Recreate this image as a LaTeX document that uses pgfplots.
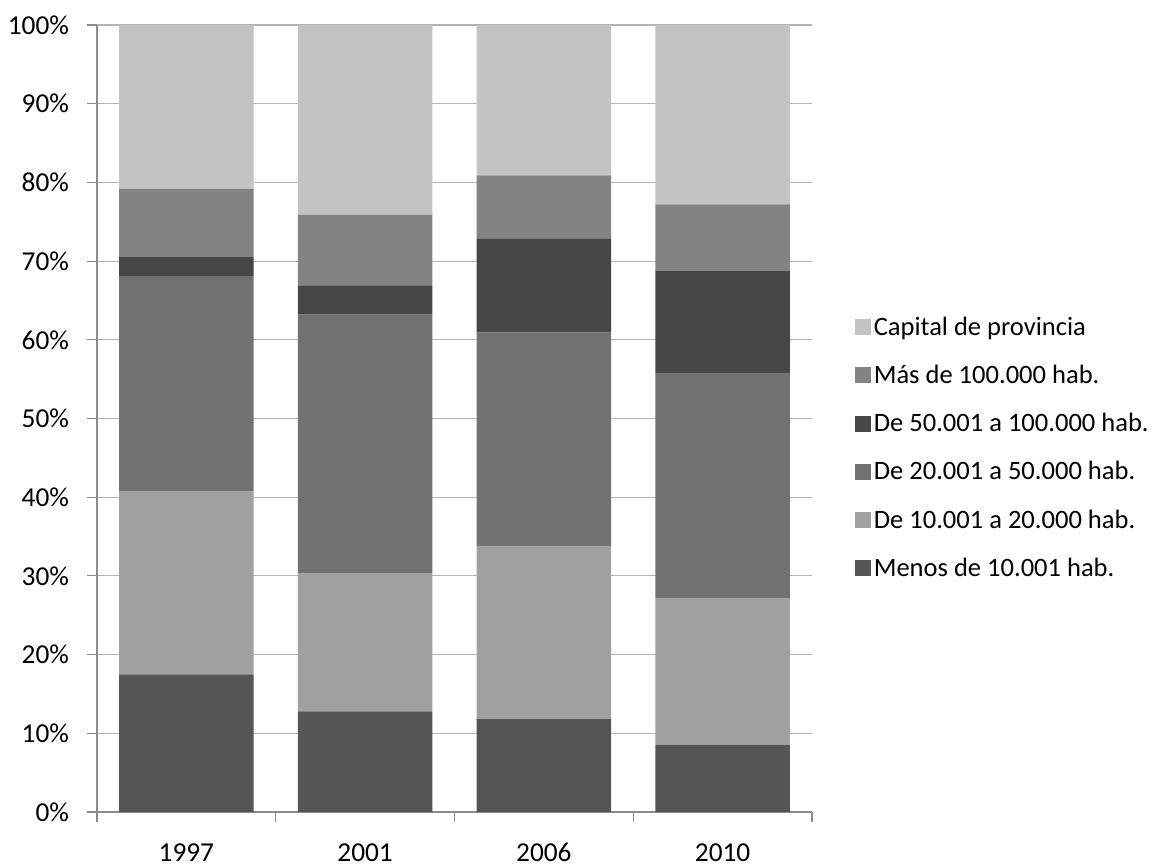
\documentclass[border=0pt]{standalone}
\usepackage{pgfplots}
\usepackage{pgfplotstable}
\pgfplotsset{compat=1.18}
\usepackage{fontspec}
\setmainfont{Carlito}
\definecolor{cCap}{HTML}{C3C3C3}
\definecolor{cMas}{HTML}{838383}
\definecolor{cCin}{HTML}{464646}
\definecolor{cVei}{HTML}{717171}
\definecolor{cDie}{HTML}{A0A0A0}
\definecolor{cMen}{HTML}{555555}
\definecolor{axgray}{HTML}{8C8C8C}
\definecolor{gridgray}{HTML}{B4B4B4}
\pgfplotstableread{
x menos diez veinte cincuenta mas capital
0 17.5 23.2 27.4 2.4 8.7 20.8
1 12.8 17.5 32.9 3.7 9.0 24.1
2 11.8 22.0 27.1 12.0 8.0 19.1
3 8.5 18.7 28.6 13.0 8.4 22.8
}\datatable
\begin{document}
\begin{tikzpicture}
\begin{axis}[
  name=ax,
  scale only axis,
  width=536.25pt, height=590.25pt,
  ybar stacked, bar width=101pt,
  xmin=-0.5, xmax=3.5, ymin=0, ymax=100,
  xtick={0,1,2,3}, xticklabels={1997,2001,2006,2010},
  major x tick style={draw=none},
  minor xtick={-0.5,0.5,1.5,2.5,3.5},
  minor tick length=7.5pt,
  major tick length=7.5pt,
  tick align=outside,
  ytick={0,10,...,100},
  yticklabel={\pgfmathprintnumber{\tick}\%},
  /pgf/number format/assume math mode=true,
  ymajorgrids,
  grid style={draw=gridgray, line width=0.8pt},
  axis x line*=bottom, axis y line*=left,
  axis line style={draw=axgray, line width=0.8pt, -},
  every tick/.style={draw=axgray, line width=0.8pt},
  minor x tick style={draw=axgray, line width=0.8pt},
  tick label style={font=\fontsize{20.5}{24}\selectfont, black},
  xticklabel style={anchor=north, text height=14pt, text depth=0pt, yshift=-12pt},
  yticklabel style={xshift=-10pt},
  reverse legend,
  legend style={draw=none, fill=none, at={(1.06,0.463)}, anchor=west,
    inner sep=0pt,
    font=\fontsize{19.9}{23}\selectfont, row sep=16.8pt,
    legend cell align=left},
  legend image code/.code={\fill[#1] (0pt,-6pt) rectangle (12pt,6pt);},
]
\addplot[fill=cMen, draw=none] table[x=x,y=menos]{\datatable};
\addplot[fill=cDie, draw=none] table[x=x,y=diez]{\datatable};
\addplot[fill=cVei, draw=none] table[x=x,y=veinte]{\datatable};
\addplot[fill=cCin, draw=none] table[x=x,y=cincuenta]{\datatable};
\addplot[fill=cMas, draw=none] table[x=x,y=mas]{\datatable};
\addplot[fill=cCap, draw=none] table[x=x,y=capital]{\datatable};
\legend{Menos de 10.001 hab.,De 10.001 a 20.000 hab.,De 20.001 a 50.000 hab.,De 50.001 a 100.000 hab.,Más de 100.000 hab.,Capital de provincia}
\end{axis}
\path ([xshift=-72.75pt,yshift=-40.5pt]ax.south west) rectangle ([xshift=791.25pt,yshift=18.75pt]ax.north west);
\end{tikzpicture}
\end{document}
